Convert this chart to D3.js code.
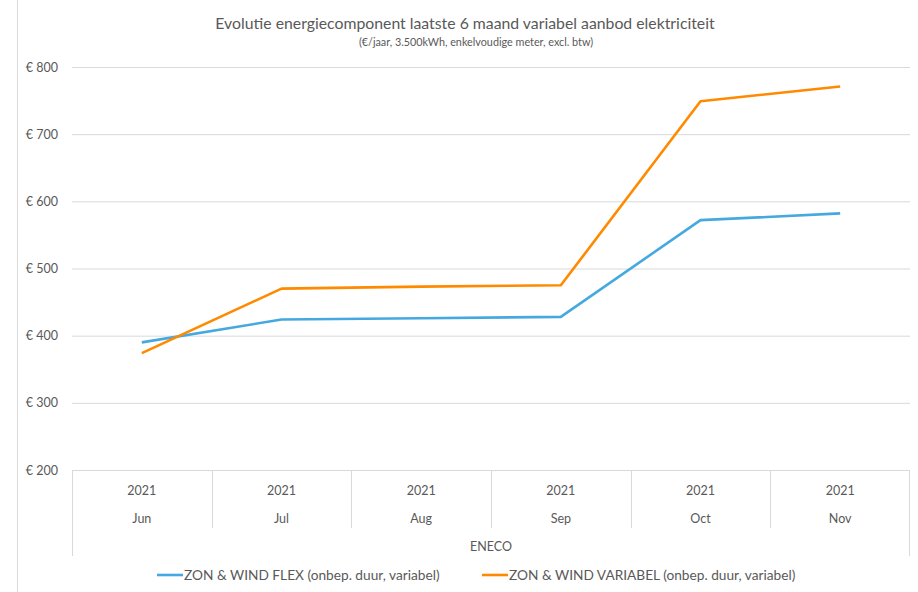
<!DOCTYPE html>
<html>
<head>
<meta charset="utf-8">
<script src="https://cdn.jsdelivr.net/npm/d3@7"></script>
<style>
  html, body { margin: 0; padding: 0; background: #fff; }
  svg { display: block; font-family: Lato, "Liberation Sans", sans-serif; }
</style>
</head>
<body>
<svg id="chart" width="918" height="592"></svg>
<script>
const months = ["Jun", "Jul", "Aug", "Sep", "Oct", "Nov"];
const years = ["2021", "2021", "2021", "2021", "2021", "2021"];
const groupLabel = "ENECO";
const flexValues = [390, 424, 426, 428, 572, 582];
const variabelValues = [374, 470, 473, 475, 749, 771];
const seriesNames = ["ZON & WIND FLEX (onbep. duur, variabel)", "ZON & WIND VARIABEL (onbep. duur, variabel)"];
const seriesColors = ["#45a9e0", "#ff8a00"];
const yTicks = [200, 300, 400, 500, 600, 700, 800];

const svg = d3.select("#chart");
const M = { left: 72, right: 910, top: 67, bottom: 470 };

const x = d3.scaleBand().domain(d3.range(months.length)).range([M.left, M.right]).padding(0);
const y = d3.scaleLinear().domain([200, 800]).range([M.bottom, M.top]);

// chart outer border (left edge visible)
svg.append("line").attr("x1", 17.5).attr("x2", 17.5).attr("y1", 0).attr("y2", 592)
  .attr("stroke", "#d9d9d9").attr("stroke-width", 1);

// title
svg.append("text").attr("x", 465).attr("y", 29).attr("text-anchor", "middle")
  .attr("font-size", 15.8).attr("fill", "#595959")
  .text("Evolutie energiecomponent laatste 6 maand variabel aanbod elektriciteit");
svg.append("text").attr("x", 476).attr("y", 46).attr("text-anchor", "middle")
  .attr("font-size", 10.8).attr("fill", "#595959")
  .text("(€/jaar, 3.500kWh, enkelvoudige meter, excl. btw)");

// y axis gridlines + labels
const yAxis = d3.axisLeft(y).tickValues(yTicks).tickSize(-(M.right - M.left))
  .tickFormat(d => "€ " + d).tickPadding(14);
const gy = svg.append("g").attr("transform", `translate(${M.left},0)`).call(yAxis);
gy.select(".domain").remove();
gy.selectAll(".tick line").attr("stroke", "#d9d9d9").attr("stroke-width", 1);
gy.selectAll(".tick text").attr("fill", "#595959").attr("font-size", 12.5)
  .attr("font-family", "Lato, 'Liberation Sans', sans-serif");
gy.selectAll(".tick").filter(d => d === 200).select("line").remove();

// category axis box
const cat = svg.append("g");
cat.append("line").attr("x1", M.left).attr("x2", M.right).attr("y1", M.bottom + 0.5).attr("y2", M.bottom + 0.5)
  .attr("stroke", "#d9d9d9");
cat.append("line").attr("x1", M.left + 0.5).attr("x2", M.left + 0.5).attr("y1", M.bottom).attr("y2", 556)
  .attr("stroke", "#d9d9d9");
cat.append("line").attr("x1", M.right - 0.5).attr("x2", M.right - 0.5).attr("y1", M.bottom).attr("y2", 556)
  .attr("stroke", "#d9d9d9");
d3.range(1, months.length).forEach(i => {
  const xx = Math.round(x(i)) + 0.5;
  cat.append("line").attr("x1", xx).attr("x2", xx).attr("y1", M.bottom).attr("y2", 528)
    .attr("stroke", "#d9d9d9");
});
months.forEach((m, i) => {
  const cx = x(i) + x.bandwidth() / 2;
  cat.append("text").attr("x", cx).attr("y", 495).attr("text-anchor", "middle")
    .attr("font-size", 12.5).attr("fill", "#595959").text(years[i]);
  cat.append("text").attr("x", cx).attr("y", 523).attr("text-anchor", "middle")
    .attr("font-size", 12.5).attr("fill", "#595959").text(m);
});
cat.append("text").attr("x", (M.left + M.right) / 2).attr("y", 551).attr("text-anchor", "middle")
  .attr("font-size", 12.5).attr("fill", "#595959").text(groupLabel);

// lines
const line = d3.line().x((d, i) => x(i) + x.bandwidth() / 2).y(d => y(d));
[flexValues, variabelValues].forEach((vals, k) => {
  svg.append("path").datum(vals).attr("d", line).attr("fill", "none")
    .attr("stroke", seriesColors[k]).attr("stroke-width", 2.6).attr("stroke-linejoin", "round");
});

// legend
const legend = [{ x: 157 }, { x: 482 }];
legend.forEach((l, k) => {
  svg.append("line").attr("x1", l.x).attr("x2", l.x + 26).attr("y1", 575).attr("y2", 575)
    .attr("stroke", seriesColors[k]).attr("stroke-width", 2.6);
  svg.append("text").attr("x", l.x + 27).attr("y", 580).attr("font-size", 13.7)
    .attr("fill", "#595959").text(seriesNames[k]);
});
</script>
</body>
</html>
